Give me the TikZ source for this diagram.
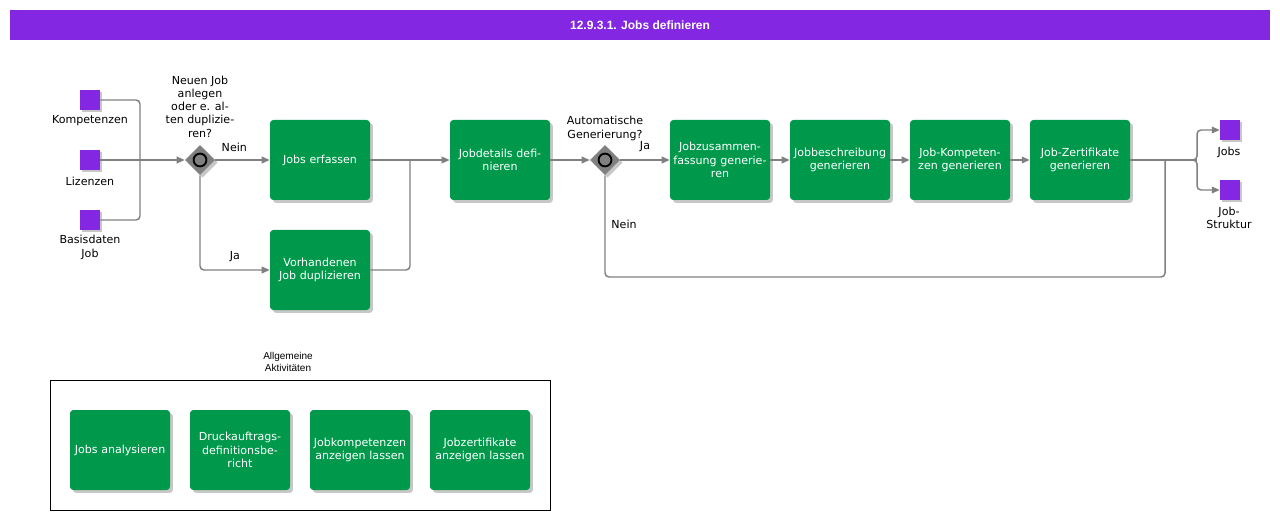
\documentclass[tikz,border=0pt]{standalone}
\usepackage{fontspec}
\setmainfont{DejaVu Sans}
\newfontfamily\titlefont{Liberation Sans}
\usetikzlibrary{shapes.geometric,arrows.meta}
\definecolor{titlepurple}{HTML}{8427E2}
\definecolor{boxgreen}{HTML}{00994C}
\definecolor{linegray}{HTML}{808080}
\tikzset{
  act/.style={rectangle, rounded corners=2.5pt, fill=boxgreen, text=white,
    minimum width=75pt, minimum height=60pt, text width=75pt, align=center,
    inner sep=0pt, font=\fontsize{8.3}{9.9}\selectfont,
    preaction={fill=black!22, rounded corners=2.5pt, transform canvas={xshift=2.2pt,yshift=-2.2pt}}},
  datasq/.style={rectangle, fill=titlepurple, minimum size=15pt, inner sep=0pt,
    preaction={fill=black!22, transform canvas={xshift=1.5pt,yshift=-1.5pt}}},
  gate/.style={diamond, fill=linegray, minimum width=22.5pt, minimum height=22.5pt, inner sep=0pt,
    preaction={fill=black!22, transform canvas={xshift=2pt,yshift=-2pt}}},
  lbl/.style={font=\fontsize{8.3}{9.9}\selectfont, align=center, inner sep=0pt, text=black},
  conn/.style={draw=linegray, line width=1.1pt, rounded corners=3pt},
  arr/.style={conn, -{Triangle[length=6pt,width=5pt]}},
}
\begin{document}
\begin{tikzpicture}[x=0.75pt,y=-0.75pt]
\useasboundingbox (0,0) rectangle (1280,520);
% title
\node[fill=titlepurple, minimum width=945pt, minimum height=22.5pt, inner sep=0pt,
  text=white, font=\titlefont\bfseries\fontsize{9}{11}\selectfont] (title) at (640,25) {12.9.3.1. Jobs definieren};

% inputs
\node[datasq] (kom) at (90,100) {};
\node[lbl] (komL) at (90,121) {Kompetenzen};
\node[datasq] (liz) at (90,160) {};
\node[lbl] (lizL) at (90,181) {Lizenzen};
\node[datasq] (bas) at (90,220) {};
\node[lbl] (basL) at (90,247.5) {Basisdaten\\Job};

% gateway 1
\node[gate] (g1) at (200,160) {};
\draw[black, line width=1.4pt, fill=linegray] (g1.center) circle (4.8pt);
\node[lbl] (g1L) at (200,106.5) {Neuen Job\\anlegen\\oder e. al-\\ten duplizie-\\ren?};

% activities row 1
\node[act] (erf) at (320,160) {Jobs erfassen};
\node[act] (dup) at (320,270) {Vorhandenen\\Job duplizieren};
\node[act] (det) at (500,160) {Jobdetails defi-\\nieren};

\node[gate] (g2) at (605,160) {};
\draw[black, line width=1.4pt, fill=linegray] (g2.center) circle (4.8pt);
\node[lbl] (g2L) at (605,128.5) {Automatische\\Generierung?};

\node[act] (zus) at (720,160) {Jobzusammen-\\fassung generie-\\ren};
\node[act] (bes) at (840,160) {Jobbeschreibung\\generieren};
\node[act] (kmp) at (960,160) {Job-Kompeten-\\zen generieren};
\node[act] (zer) at (1080,160) {Job-Zertifikate\\generieren};

% outputs
\node[datasq] (jobs) at (1230,130) {};
\node[lbl] (jobsL) at (1229,152) {Jobs};
\node[datasq] (str) at (1230,190) {};
\node[lbl] (strL) at (1229,217.5) {Job-\\Struktur};

% coordinates
\coordinate (m1) at (140,160);
\coordinate (m2) at (410,160);
\coordinate (m3) at (1165,160);
\coordinate (m4) at (1197,160);

% input connectors
\draw[conn] (kom.east) -- (140,100) -- (m1);
\draw[conn] (bas.east) -- (140,220) -- (m1);
\draw[arr] (liz.east) -- (g1.west);

% gateway 1 branches
\draw[arr] (g1.east) -- (erf.west) node[lbl, pos=0.35, above=6pt] (nein1) {Nein};
\draw[arr] (g1.south) |- (dup.west) node[lbl, pos=0.75, above=6pt] (ja1) {Ja};

% merge to details
\draw[arr] (erf.east) -- (det.west);
\draw[conn] (dup.east) -| (m2);

\draw[arr] (det.east) -- (g2.west);
\draw[arr] (g2.east) -- (zus.west) node[lbl, pos=0.5, above=6pt] (ja2) {Ja};
\draw[conn] (g2.south) -- (605,277) -- (1165,277) -- (m3);
\node[lbl] (nein2) at (624,224) {Nein};

\draw[arr] (zus.east) -- (bes.west);
\draw[arr] (bes.east) -- (kmp.west);
\draw[arr] (kmp.east) -- (zer.west);
\draw[conn] (zer.east) -- (m4);
\draw[arr] (zer.east) -- (1197,160) -- (1197,130) -- (jobs.west);
\draw[arr] (zer.east) -- (1197,160) -- (1197,190) -- (str.west);

% general activities
\node[lbl, font=\titlefont\fontsize{7.5}{9}\selectfont] (allgL) at (288,362) {Allgemeine\\Aktivitäten};
\node[draw=black, line width=0.6pt, minimum width=375pt, minimum height=97.5pt, inner sep=0pt] (allg) at (300,445) {};
\node[act] (ana) at (120,450) {Jobs analysieren};
\node[act] (dru) at (240,450) {Druckauftrags-\\definitionsbe-\\richt};
\node[act] (jkp) at (360,450) {Jobkompetenzen\\anzeigen lassen};
\node[act] (jzt) at (480,450) {Jobzertifikate\\anzeigen lassen};
\end{tikzpicture}
\end{document}
